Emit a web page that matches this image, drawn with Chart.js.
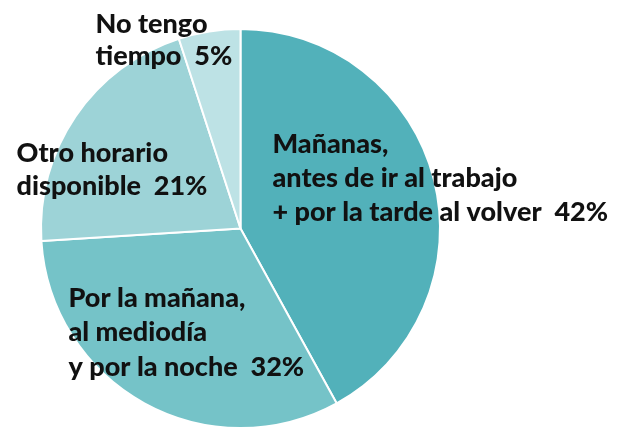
<!DOCTYPE html>
<html>
<head>
<meta charset="utf-8">
<script src="https://cdn.jsdelivr.net/npm/chart.js@4"></script>
<style>
  html, body { margin: 0; padding: 0; background: #fff; overflow: hidden; }
  #wrap { width: 625px; height: 427px; overflow: hidden; }
</style>
</head>
<body>
<div id="wrap"><canvas id="myChart" width="625" height="462"></canvas></div>
<script>
// Data (clockwise from 12 o'clock)
const categories = [
  "Mañanas, antes de ir al trabajo + por la tarde al volver",
  "Por la mañana, al mediodía y por la noche",
  "Otro horario disponible",
  "No tengo tiempo",
];
const shares = [42, 32, 21, 5];
const labelLines = [
  ["Mañanas,", "antes de ir al trabajo", "+ por la tarde al volver  42%"],
  ["Por la mañana,", "al mediodía", "y por la noche  32%"],
  ["Otro horario", "disponible  21%"],
  ["No tengo", "tiempo  5%"],
];
const sliceColors = ["#52b1ba", "#75c3c8", "#9dd3d7", "#bde2e5"];

// where each label block starts, relative to the pie centre
const labelPlace = [
  { dx: 32, dy: -76, lh: 34 },
  { dx: -172, dy: 78, lh: 34.5 },
  { dx: -224, dy: -67, lh: 33 },
  { dx: -145, dy: -196, lh: 32 },
];

const labelPlugin = {
  id: "sliceLabels",
  afterDatasetsDraw(chart) {
    const ctx = chart.ctx;
    const arc = chart.getDatasetMeta(0).data[0];
    const cx = arc.x;
    const cy = arc.y;
    ctx.save();
    ctx.fillStyle = "#111";
    ctx.font = "900 27px Lato";
    ctx.textAlign = "left";
    ctx.textBaseline = "alphabetic";
    labelLines.forEach((lines, i) => {
      const p = labelPlace[i];
      lines.forEach((line, j) => {
        ctx.fillText(line, cx + p.dx, cy + p.dy + j * p.lh);
      });
    });
    ctx.restore();
  },
};

const ctx = document.getElementById("myChart").getContext("2d");
const chart = new Chart(ctx, {
  type: "pie",
  data: {
    labels: categories,
    datasets: [
      {
        data: shares,
        backgroundColor: sliceColors,
        borderColor: "#ffffff",
        borderWidth: 2,
      },
    ],
  },
  options: {
    responsive: false,
    animation: false,
    layout: {
      padding: { left: 40, right: 184, top: 28, bottom: 33 },
    },
    plugins: {
      legend: { display: false },
      tooltip: { enabled: false },
    },
  },
  plugins: [labelPlugin],
});
</script>
</body>
</html>
